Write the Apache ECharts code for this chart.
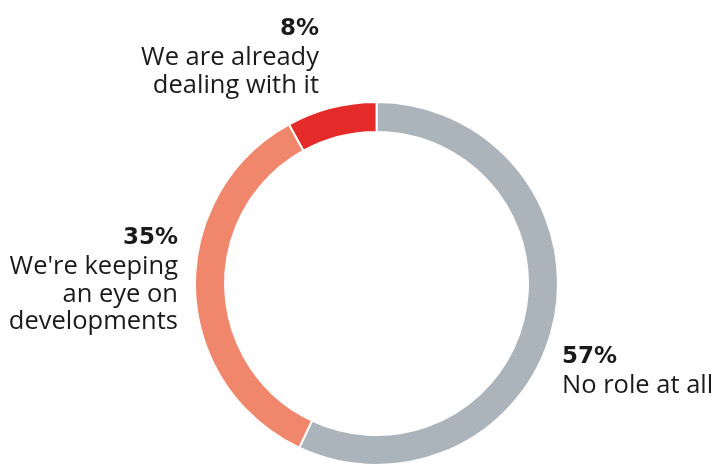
<!DOCTYPE html>
<html><head><meta charset="utf-8">
<script src="https://cdn.jsdelivr.net/npm/echarts@6/dist/echarts.min.js"></script>
<style>html,body{margin:0;padding:0;background:#fff}#c{width:716px;height:464px}</style>
</head><body><div id="c"></div>
<script>
const categories = ["No role at all", "We're keeping\nan eye on\ndevelopments", "We are already\ndealing with it"];
const values = [57, 35, 8];
const colors = ["#acb4bb", "#f0866b", "#e42b29"];

const labelPos = [
  {x: 562, y: 342, align: 'left'},
  {x: 178, y: 223, align: 'right'},
  {x: 319, y: 14, align: 'right'}
];

const chart = echarts.init(document.getElementById('c'), null, {renderer: 'canvas'});
chart.setOption({
  animation: false,
  backgroundColor: '#fff',
  series: [{
    type: 'pie',
    center: [376.5, 283.5],
    radius: [151.5, 181.5],
    startAngle: 90,
    clockwise: true,
    itemStyle: {borderColor: '#fff', borderWidth: 2},
    labelLine: {show: false},
    label: {
      show: true,
      position: 'inside',
      overflow: 'none',
      formatter: p => '{p|' + p.value + '%}\n{t|' + p.name.split('\n').join('}\n{t|') + '}',
      rich: {
        p: {fontFamily: 'DejaVu Sans', fontWeight: 'bold', fontSize: 23, lineHeight: 30, color: '#1a1a1a'},
        t: {fontFamily: 'Open Sans', fontSize: 25.5, lineHeight: 27.5, color: '#1a1a1a'}
      }
    },
    labelLayout: p => {
      const L = labelPos[p.dataIndex];
      return {x: L.x, y: L.y, align: L.align, verticalAlign: 'top'};
    },
    data: values.map((v, i) => ({
      value: v, name: categories[i],
      itemStyle: {color: colors[i]},
      label: {rich: {
        p: {align: labelPos[i].align},
        t: {align: labelPos[i].align}
      }}
    }))
  }]
});
</script></body></html>
